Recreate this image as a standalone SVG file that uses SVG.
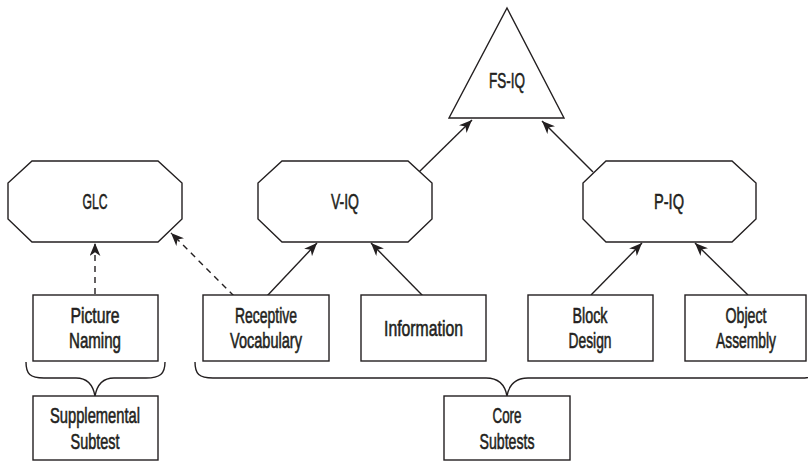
<svg xmlns="http://www.w3.org/2000/svg" width="808" height="461" viewBox="0 0 808 461">
<defs>
<marker id="ah" viewBox="0 0 12 10" refX="12" refY="5" markerWidth="13" markerHeight="11" markerUnits="userSpaceOnUse" orient="auto">
<path d="M0,0 L12,5 L0,10 L3.5,5 z" fill="#231f20"/>
</marker>
<style>
.s{fill:#fff;stroke:#231f20;stroke-width:1.4}
.c{fill:none;stroke:#231f20;stroke-width:1.4}
.d{fill:none;stroke:#231f20;stroke-width:1.4;stroke-dasharray:6 5}
text{font-family:"Liberation Sans",Arial,sans-serif;font-size:22px;fill:#231f20;stroke:#231f20;stroke-width:0.6;text-anchor:middle}
</style>
</defs>
<rect width="808" height="461" fill="#fff"/>
<g id="connectors">
<line class="c" x1="419" y1="172" x2="472" y2="120" marker-end="url(#ah)"/>
<line class="c" x1="593" y1="172" x2="542" y2="121" marker-end="url(#ah)"/>
<line class="c" x1="267" y1="296" x2="317" y2="243" marker-end="url(#ah)"/>
<line class="c" x1="423" y1="296" x2="371" y2="243" marker-end="url(#ah)"/>
<line class="c" x1="591" y1="295" x2="642" y2="243" marker-end="url(#ah)"/>
<line class="c" x1="748" y1="295" x2="695" y2="243" marker-end="url(#ah)"/>
<line class="d" x1="95" y1="294" x2="95" y2="243" marker-end="url(#ah)"/>
<line class="d" x1="234" y1="296" x2="171" y2="233" marker-end="url(#ah)"/>
<path class="c" d="M26,362 C26,374 30,378 44,378 L76,378 C88,378 93,385 95,396 C97,385 102,378 114,378 L146,378 C160,378 165,374 165,362"/>
<path class="c" d="M195,362 C195,374 199,378 213,378 L486,378 C498,378 505,385 507,396 C509,385 516,378 528,378 L801,378 C815,378 819,374 819,362"/>
</g>
<g id="fsiq">
<polygon class="s" points="507,8 564,118 449,118"/>
<text x="507" y="88" textLength="36" lengthAdjust="spacingAndGlyphs">FS-IQ</text>
</g>
<g id="glc">
<polygon class="s" points="32,161 158,161 182,183 182,219 158,242 32,242 8,219 8,183"/>
<text x="95" y="209" textLength="25" lengthAdjust="spacingAndGlyphs">GLC</text>
</g>
<g id="viq">
<polygon class="s" points="282,161 408,161 432,183 432,219 408,242 282,242 258,219 258,183"/>
<text x="345" y="209" textLength="28" lengthAdjust="spacingAndGlyphs">V-IQ</text>
</g>
<g id="piq">
<polygon class="s" points="606,161 732,161 756,183 756,219 732,242 606,242 583,219 583,183"/>
<text x="669" y="209" textLength="30" lengthAdjust="spacingAndGlyphs">P-IQ</text>
</g>
<g id="picture-naming">
<rect class="s" x="33" y="295" width="125" height="66"/>
<text x="95" y="323" textLength="49" lengthAdjust="spacingAndGlyphs">Picture</text>
<text x="95" y="348" textLength="52" lengthAdjust="spacingAndGlyphs">Naming</text>
</g>
<g id="receptive-vocabulary">
<rect class="s" x="203" y="295" width="126" height="66"/>
<text x="266" y="323" textLength="62" lengthAdjust="spacingAndGlyphs">Receptive</text>
<text x="266" y="348" textLength="72" lengthAdjust="spacingAndGlyphs">Vocabulary</text>
</g>
<g id="information">
<rect class="s" x="361" y="295" width="125" height="66"/>
<text x="423.5" y="336" textLength="79" lengthAdjust="spacingAndGlyphs">Information</text>
</g>
<g id="block-design">
<rect class="s" x="528" y="295" width="125" height="66"/>
<text x="590" y="323" textLength="35" lengthAdjust="spacingAndGlyphs">Block</text>
<text x="590" y="348" textLength="43" lengthAdjust="spacingAndGlyphs">Design</text>
</g>
<g id="object-assembly">
<rect class="s" x="685" y="295" width="121" height="66"/>
<text x="746" y="323" textLength="41" lengthAdjust="spacingAndGlyphs">Object</text>
<text x="746" y="348" textLength="60" lengthAdjust="spacingAndGlyphs">Assembly</text>
</g>
<g id="supplemental-subtest">
<rect class="s" x="33" y="396" width="125" height="64"/>
<text x="95" y="423" textLength="90" lengthAdjust="spacingAndGlyphs">Supplemental</text>
<text x="95" y="449" textLength="49" lengthAdjust="spacingAndGlyphs">Subtest</text>
</g>
<g id="core-subtests">
<rect class="s" x="444" y="396" width="126" height="64"/>
<text x="507" y="423" textLength="29" lengthAdjust="spacingAndGlyphs">Core</text>
<text x="507" y="449" textLength="55" lengthAdjust="spacingAndGlyphs">Subtests</text>
</g>
</svg>
